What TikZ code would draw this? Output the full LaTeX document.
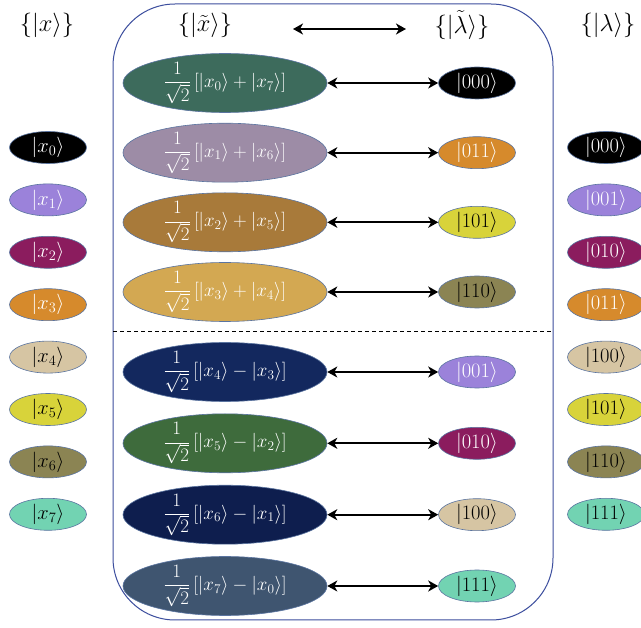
\RequirePackage{fix-cm}
\documentclass[tikz,border=0pt]{standalone}
\usetikzlibrary{shapes.geometric,arrows.meta}
\definecolor{edgec}{HTML}{5A74A0}
\definecolor{framec}{HTML}{3C4E9E}
\definecolor{gTeal}{HTML}{3D6B5C}
\definecolor{gMauve}{HTML}{9D8CA6}
\definecolor{gBrown}{HTML}{A87A3A}
\definecolor{gSand}{HTML}{D3A852}
\definecolor{gNavy}{HTML}{13285E}
\definecolor{gGreen}{HTML}{3E6B3C}
\definecolor{gNavyB}{HTML}{0E1E4E}
\definecolor{gSlate}{HTML}{3F5570}
\definecolor{cBlack}{HTML}{000000}
\definecolor{cPurple}{HTML}{9B82DA}
\definecolor{cMagenta}{HTML}{8B1C5E}
\definecolor{cOrange}{HTML}{D68A2C}
\definecolor{cTan}{HTML}{D6C5A3}
\definecolor{cYellow}{HTML}{D8D33A}
\definecolor{cOlive}{HTML}{8B8453}
\definecolor{cAqua}{HTML}{72D3B2}
\tikzset{
  ket/.style={ellipse, minimum width=77pt, minimum height=32pt, inner sep=0pt,
    draw=edgec, line width=0.6pt, font=\fontsize{20.5}{24}\selectfont},
  big/.style={ellipse, minimum width=204pt, minimum height=59pt, inner sep=0pt,
    draw=edgec, line width=0.6pt, text=white, font=\fontsize{19}{23}\selectfont},
  hdr/.style={font=\fontsize{24.5}{28}\selectfont, inner sep=0pt},
  link/.style={{Stealth[length=10pt,width=11pt,inset=3pt]}-{Stealth[length=10pt,width=11pt,inset=3pt]}, line width=2.3pt},
  frame/.style={draw=framec, line width=1pt, rounded corners=62pt},
  divider/.style={dashed, line width=0.6pt, dash pattern=on 4pt off 3pt}
}
\begin{document}
\begin{tikzpicture}[x=1pt,y=-1pt]
\useasboundingbox (0,0) rectangle (641,628);
\fill[white] (0,0) rectangle (641,628);
% frame
\draw[frame] (113,4) rectangle (553,620);
\draw[divider] (113,331) -- (553,331);
% headers
\node[hdr] (hx)  at (47,25)  {$\{|x\rangle\}$};
\node[hdr] (hxt) at (205,25) {$\{|\tilde{x}\rangle\}$};
\node[hdr] (hlt) at (462,25) {$\{|\tilde{\lambda}\rangle\}$};
\node[hdr] (hl)  at (608,25) {$\{|\lambda\rangle\}$};
\coordinate (ha) at (293,29);
\coordinate (hb) at (406,29);
\draw[link] (ha) -- (hb);
% left column
\node[ket, fill=cBlack,   text=white] (L0) at (48,147.5) {$|x_0\rangle$};
\node[ket, fill=cPurple,  text=white] (L1) at (48,199.9) {$|x_1\rangle$};
\node[ket, fill=cMagenta, text=white] (L2) at (48,252.3) {$|x_2\rangle$};
\node[ket, fill=cOrange,  text=white] (L3) at (48,304.7) {$|x_3\rangle$};
\node[ket, fill=cTan,     text=black] (L4) at (48,357.1) {$|x_4\rangle$};
\node[ket, fill=cYellow,  text=black] (L5) at (48,409.5) {$|x_5\rangle$};
\node[ket, fill=cOlive,   text=black] (L6) at (48,461.9) {$|x_6\rangle$};
\node[ket, fill=cAqua,    text=black] (L7) at (48,514.3) {$|x_7\rangle$};
% right column
\node[ket, fill=cBlack,   text=white] (R0) at (606,147.5) {$|000\rangle$};
\node[ket, fill=cPurple,  text=white] (R1) at (606,199.9) {$|001\rangle$};
\node[ket, fill=cMagenta, text=white] (R2) at (606,252.3) {$|010\rangle$};
\node[ket, fill=cOrange,  text=white] (R3) at (606,304.7) {$|011\rangle$};
\node[ket, fill=cTan,     text=black] (R4) at (606,357.1) {$|100\rangle$};
\node[ket, fill=cYellow,  text=black] (R5) at (606,409.5) {$|101\rangle$};
\node[ket, fill=cOlive,   text=black] (R6) at (606,461.9) {$|110\rangle$};
\node[ket, fill=cAqua,    text=black] (R7) at (606,514.3) {$|111\rangle$};
% middle big ellipses
\node[big, fill=gTeal]  (B1) at (225,83)    {$\displaystyle\frac{1}{\sqrt{2}}\,[|x_0\rangle+|x_7\rangle]$};
\node[big, fill=gMauve] (B2) at (225,152.7) {$\displaystyle\frac{1}{\sqrt{2}}\,[|x_1\rangle+|x_6\rangle]$};
\node[big, fill=gBrown] (B3) at (225,222.3) {$\displaystyle\frac{1}{\sqrt{2}}\,[|x_2\rangle+|x_5\rangle]$};
\node[big, fill=gSand]  (B4) at (225,292)   {$\displaystyle\frac{1}{\sqrt{2}}\,[|x_3\rangle+|x_4\rangle]$};
\node[big, fill=gNavy]  (B5) at (225,372)   {$\displaystyle\frac{1}{\sqrt{2}}\,[|x_4\rangle-|x_3\rangle]$};
\node[big, fill=gGreen] (B6) at (225,443.3) {$\displaystyle\frac{1}{\sqrt{2}}\,[|x_5\rangle-|x_2\rangle]$};
\node[big, fill=gNavyB] (B7) at (225,514.7) {$\displaystyle\frac{1}{\sqrt{2}}\,[|x_6\rangle-|x_1\rangle]$};
\node[big, fill=gSlate] (B8) at (225,586)   {$\displaystyle\frac{1}{\sqrt{2}}\,[|x_7\rangle-|x_0\rangle]$};
% middle small ellipses
\node[ket, fill=cBlack,   text=white] (S1) at (477,83)    {$|000\rangle$};
\node[ket, fill=cOrange,  text=white] (S2) at (477,152.7) {$|011\rangle$};
\node[ket, fill=cYellow,  text=black] (S3) at (477,222.3) {$|101\rangle$};
\node[ket, fill=cOlive,   text=black] (S4) at (477,292)   {$|110\rangle$};
\node[ket, fill=cPurple,  text=white] (S5) at (477,372)   {$|001\rangle$};
\node[ket, fill=cMagenta, text=white] (S6) at (477,443.3) {$|010\rangle$};
\node[ket, fill=cTan,     text=black] (S7) at (477,514.7) {$|100\rangle$};
\node[ket, fill=cAqua,    text=black] (S8) at (477,586)   {$|111\rangle$};
% links
\foreach \i in {1,...,8} { \draw[link] (B\i) -- (S\i); }
\end{tikzpicture}
\end{document}
